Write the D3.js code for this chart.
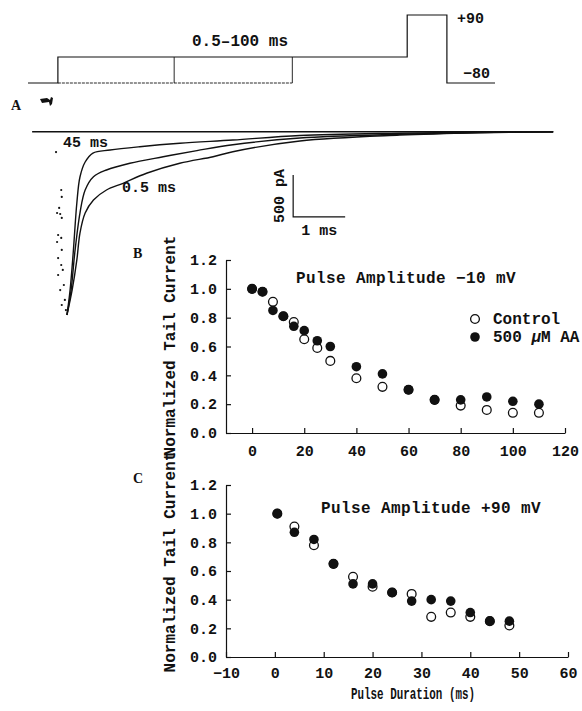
<!DOCTYPE html>
<html>
<head>
<meta charset="utf-8">
<script src="https://cdn.jsdelivr.net/npm/d3@7"></script>
<style>
  body { margin: 0; background: #fff; }
  svg { display: block; }
  text { font-family: 'Liberation Mono', 'Courier New', monospace; font-weight: bold; fill: #111; }
</style>
</head>
<body>
<div id="chart"></div>
<script>
// ---- data ----
// panel A: voltage protocol (arbitrary time units, mV)
const protocolTimes = [0, 6.4, 6.4, 81.2, 81.2, 89.7, 89.7, 100];
const protocolVolts = [-80, -80, -15, -15, 90, 90, -80, -80];
const shorterPulseEnds = [31.3, 56.6];

// panel A: tail currents, [ms, pA]
const tail45ms = [[-0.02, -2182], [0.04, -1884], [0.10, -1444], [0.17, -849], [0.23, -539], [0.33, -361],
  [0.48, -254], [0.81, -218], [1.38, -179], [2.15, -138], [3.17, -99], [4.46, -45], [6.38, -18], [7.92, -6], [9.33, 0]];
const tailMiddle = [[-0.02, -2182], [0.06, -1884], [0.13, -1444], [0.23, -968], [0.33, -694], [0.49, -536],
  [0.74, -456], [1.19, -376], [1.83, -298], [2.48, -225], [3.17, -155], [4.46, -75], [6.38, -30], [7.92, -10], [9.33, 0]];
const tail05ms = [[-0.02, -2182], [0.08, -1884], [0.17, -1527], [0.23, -1206], [0.33, -968], [0.49, -813],
  [0.74, -694], [1.06, -614], [1.51, -495], [2.15, -376], [2.79, -298], [3.17, -238], [4.46, -110], [6.38, -40], [7.92, -12], [9.33, 0]];
const artifactDots = [[-0.23, -242], [-0.13, -694], [-0.12, -777], [-0.17, -908], [-0.15, -980], [-0.21, -968],
  [-0.12, -1027], [-0.19, -1230], [-0.13, -1265], [-0.21, -1313], [-0.12, -1408], [-0.19, -1504], [-0.13, -1587],
  [-0.10, -1646], [-0.19, -1706], [-0.08, -1825], [-0.15, -1885], [-0.06, -2003], [-0.12, -2063], [-0.04, -2123]];

// panel B: pulse amplitude -10 mV
const durationsB = [0, 4, 8, 12, 16, 20, 25, 30, 40, 50, 60, 70, 80, 90, 100, 110];
const controlB = [1.00, 0.98, 0.91, 0.81, 0.77, 0.65, 0.59, 0.50, 0.38, 0.32, 0.30, 0.23, 0.19, 0.16, 0.14, 0.14];
const aaB = [1.00, 0.98, 0.85, 0.81, 0.74, 0.71, 0.64, 0.60, 0.46, 0.41, 0.30, 0.23, 0.23, 0.25, 0.22, 0.20];

// panel C: pulse amplitude +90 mV
const durationsC = [0.5, 4, 8, 12, 16, 20, 24, 28, 32, 36, 40, 44, 48];
const controlC = [1.00, 0.91, 0.78, 0.65, 0.56, 0.49, 0.45, 0.44, 0.28, 0.31, 0.28, 0.25, 0.22];
const aaC = [1.00, 0.87, 0.82, 0.65, 0.51, 0.51, 0.45, 0.39, 0.40, 0.39, 0.31, 0.25, 0.25];

const yTicks = [0, 0.2, 0.4, 0.6, 0.8, 1.0, 1.2];
const xTicksB = [0, 20, 40, 60, 80, 100, 120];
const xTicksC = [-10, 0, 10, 20, 30, 40, 50, 60];
const seriesNames = ['Control', '500 μM AA'];

// ---- setup ----
const width = 582;
const height = 711;
const ink = '#111';
const svg = d3.select('#chart').append('svg').attr('width', width).attr('height', height);
svg.append('rect').attr('width', width).attr('height', height).attr('fill', '#fff');

// #region Panel A - protocol
const xP = d3.scaleLinear().domain([0, 100]).range([28, 495]);
const yV = d3.scaleLinear().domain([-80, 90]).range([83, 15]);

svg.append('path')
  .datum(protocolTimes.map((t, i) => [t, protocolVolts[i]]))
  .attr('d', d3.line().x(d => xP(d[0])).y(d => yV(d[1])))
  .attr('fill', 'none').attr('stroke', ink).attr('stroke-width', 1.2);

svg.append('line')
  .attr('x1', xP(protocolTimes[1])).attr('x2', xP(shorterPulseEnds[1]))
  .attr('y1', yV(-80)).attr('y2', yV(-80))
  .attr('stroke', ink).attr('stroke-width', 0.9).attr('stroke-dasharray', '3,1');

svg.selectAll('.short-end')
  .data(shorterPulseEnds)
  .enter().append('line')
  .attr('class', 'short-end')
  .attr('x1', d => xP(d)).attr('x2', d => xP(d))
  .attr('y1', yV(-15)).attr('y2', yV(-80))
  .attr('stroke', ink).attr('stroke-width', 0.9);

svg.append('text').attr('x', 240).attr('y', 46).attr('text-anchor', 'middle')
  .style('font-size', '16px').text('0.5–100 ms');
svg.append('text').attr('x', 457).attr('y', 23).style('font-size', '15px').text('+90');
svg.append('text').attr('x', 463).attr('y', 78).style('font-size', '15px').text('−80');

svg.append('text').attr('x', 11).attr('y', 110)
  .style('font-family', "'Liberation Serif', serif").style('font-size', '14px').text('A');
svg.append('path')
  .attr('d', 'M40,99 L47,98 L50,100 L51,97 L53,98 L52,104 L50,106 L49,102 L42,103 Z')
  .attr('fill', ink);
// #endregion

// #region Panel A - tail currents
const xT = d3.scaleLinear().domain([0, 1]).range([68, 120]);
const yT = d3.scaleLinear().domain([0, -500]).range([131.7, 173.7]);

svg.append('line')
  .attr('x1', xT(-0.69)).attr('x2', xT(9.33))
  .attr('y1', yT(0)).attr('y2', yT(0))
  .attr('stroke', ink).attr('stroke-width', 1.6);

const traceLine = d3.line().x(d => xT(d[0])).y(d => yT(d[1])).curve(d3.curveCatmullRom.alpha(0.5));
svg.selectAll('.trace')
  .data([tail45ms, tailMiddle, tail05ms])
  .enter().append('path')
  .attr('class', 'trace')
  .attr('d', traceLine)
  .attr('fill', 'none').attr('stroke', ink).attr('stroke-width', 1.4);

svg.selectAll('.artifact')
  .data(artifactDots)
  .enter().append('circle')
  .attr('class', 'artifact')
  .attr('cx', d => xT(d[0])).attr('cy', d => yT(d[1]))
  .attr('r', 1.1).attr('fill', ink);

svg.append('text').attr('x', 63).attr('y', 147).style('font-size', '15px').text('45 ms');
svg.append('text').attr('x', 122).attr('y', 192).style('font-size', '15px').text('0.5 ms');

// scale bar
const barT = 4.33;
const barI = -515;
svg.append('path')
  .attr('d', `M${xT(barT)},${yT(barI)} L${xT(barT)},${yT(barI - 500)} L${xT(barT + 1)},${yT(barI - 500)}`)
  .attr('fill', 'none').attr('stroke', ink).attr('stroke-width', 1.2);
svg.append('text')
  .attr('transform', `translate(${xT(barT) - 9}, ${yT(barI - 250)}) rotate(-90)`)
  .attr('text-anchor', 'middle').style('font-size', '15px').text('500 pA');
svg.append('text').attr('x', (xT(barT) + xT(barT + 1)) / 2).attr('y', 235)
  .attr('text-anchor', 'middle').style('font-size', '15px').text('1 ms');
// #endregion

// #region Panels B and C
function drawPanel(cfg) {
  const { x, y, durations, control, aa, xTicks, letter, title } = cfg;
  const g = svg.append('g');

  const yAxis = g.append('g')
    .attr('transform', `translate(${x.range()[0]},0)`)
    .call(d3.axisLeft(y).tickValues(yTicks).tickFormat(d3.format('.1f'))
      .tickSizeInner(-5).tickSizeOuter(0).tickPadding(9));
  const xAxis = g.append('g')
    .attr('transform', `translate(0,${y.range()[0]})`)
    .call(d3.axisBottom(x).tickValues(xTicks).tickFormat(d3.format('d'))
      .tickSizeInner(-5).tickSizeOuter(0).tickPadding(cfg.xPad));

  [yAxis, xAxis].forEach(a => {
    a.attr('font-family', null).attr('font-size', null);
    a.select('.domain').attr('stroke', ink).attr('stroke-width', 1.2);
    a.selectAll('.tick line').attr('stroke', ink).attr('stroke-width', 1.2);
    a.selectAll('.tick text').attr('fill', ink).style('font-size', '15px');
  });

  g.selectAll('.open')
    .data(durations.map((d, i) => [d, control[i]]))
    .enter().append('circle')
    .attr('class', 'open')
    .attr('cx', d => x(d[0])).attr('cy', d => y(d[1])).attr('r', 4.4)
    .attr('fill', '#fff').attr('stroke', ink).attr('stroke-width', 1.3);

  g.selectAll('.filled')
    .data(durations.map((d, i) => [d, aa[i]]))
    .enter().append('circle')
    .attr('class', 'filled')
    .attr('cx', d => x(d[0])).attr('cy', d => y(d[1])).attr('r', 4.8)
    .attr('fill', ink);

  g.append('text').attr('x', title.x).attr('y', title.y)
    .style('font-size', '16px').style('letter-spacing', '0.4px').text(title.text);

  g.append('text').attr('x', 133).attr('y', letter.y)
    .style('font-family', "'Liberation Serif', serif").style('font-size', '14px').text(letter.text);

  g.append('text')
    .attr('transform', `translate(175, ${cfg.labelY}) rotate(-90)`)
    .attr('text-anchor', 'middle').style('font-size', '16px')
    .text('Normalized Tail Current');
}

const xB = d3.scaleLinear().domain([-10, 120]).range([226, 565]);
const yB = d3.scaleLinear().domain([0, 1.2]).range([433, 260]);
drawPanel({
  x: xB, y: yB, durations: durationsB, control: controlB, aa: aaB, xTicks: xTicksB, xPad: 12,
  letter: { text: 'B', y: 258 }, labelY: 346,
  title: { text: 'Pulse Amplitude −10 mV', x: 296, y: 283 },
});

const xC = d3.scaleLinear().domain([-10, 60]).range([226, 568]);
const yC = d3.scaleLinear().domain([0, 1.2]).range([657, 485]);
drawPanel({
  x: xC, y: yC, durations: durationsC, control: controlC, aa: aaC, xTicks: xTicksC, xPad: 10,
  letter: { text: 'C', y: 483 }, labelY: 562,
  title: { text: 'Pulse Amplitude +90 mV', x: 321, y: 513 },
});

svg.append('text').attr('transform', 'translate(413, 699) scale(0.68, 1)').attr('text-anchor', 'middle')
  .style('font-size', '16px').text('Pulse Duration (ms)');
// #endregion

// #region Legend (panel B)
const legend = svg.append('g').attr('transform', 'translate(475, 319)');
legend.selectAll('circle')
  .data(seriesNames)
  .enter().append('circle')
  .attr('cy', (d, i) => i * 18).attr('r', (d, i) => (i === 0 ? 4.4 : 4.8))
  .attr('fill', (d, i) => (i === 0 ? '#fff' : ink))
  .attr('stroke', (d, i) => (i === 0 ? ink : 'none')).attr('stroke-width', 1.3);
legend.selectAll('text')
  .data(seriesNames)
  .enter().append('text')
  .attr('x', 18).attr('y', (d, i) => i * 18 + 4.5)
  .style('font-size', '16px')
  .each(function (d) {
    const t = d3.select(this);
    const mu = d.indexOf('μ');
    if (mu < 0) { t.text(d); return; }
    t.append('tspan').text(d.slice(0, mu));
    t.append('tspan').style('font-style', 'italic').text('μ');
    t.append('tspan').text(d.slice(mu + 1));
  });
// #endregion
</script>
</body>
</html>
